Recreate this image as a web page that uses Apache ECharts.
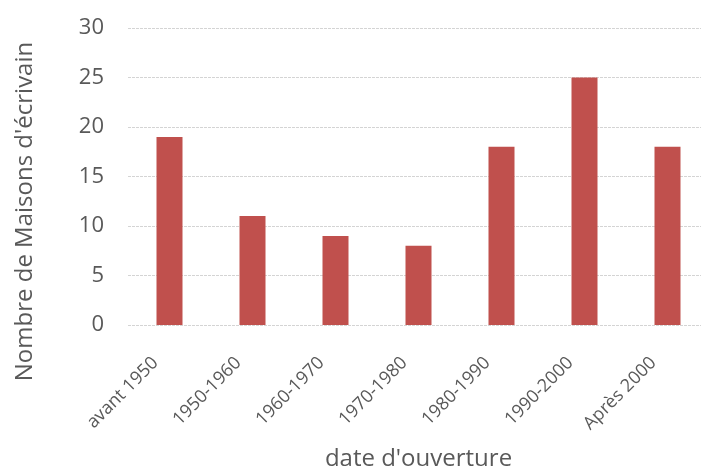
<!DOCTYPE html>
<html>
<head>
<meta charset="utf-8">
<script src="https://cdn.jsdelivr.net/npm/echarts@6/dist/echarts.min.js"></script>
<style>
  html, body { margin: 0; padding: 0; background: #fff; overflow: hidden; }
  #chart { width: 720px; height: 468px; }
</style>
</head>
<body>
<div id="chart"></div>
<script>
// données
const periodes = ['avant 1950', '1950-1960', '1960-1970', '1970-1980', '1980-1990', '1990-2000', 'Après 2000']
const nombreMaisons = [19, 11, 9, 8, 18, 25, 18]

const chart = echarts.init(document.getElementById('chart'))
const font = '"Open Sans", sans-serif'

chart.setOption({
  animation: false,
  grid: { left: 128, top: 28, width: 581, height: 297, outerBoundsMode: 'none' },
  xAxis: {
    type: 'category',
    data: periodes,
    name: "date d'ouverture",
    nameLocation: 'middle',
    nameGap: 122,
    nameTextStyle: { fontFamily: font, fontSize: 24, color: '#595959' },
    axisLine: { show: false },
    axisTick: { show: false },
    axisLabel: {
      rotate: 45, margin: 21, padding: [0, 20, 0, 0],
      fontFamily: font, fontSize: 18, color: '#595959', interval: 0
    }
  },
  yAxis: {
    type: 'value',
    min: 0,
    max: 30,
    interval: 5,
    name: "Nombre de Maisons d'écrivain",
    nameLocation: 'middle',
    nameGap: 91,
    nameTextStyle: { fontFamily: font, fontSize: 24, color: '#595959', padding: [0, 70, 0, 0] },
    axisLabel: { margin: 24, fontFamily: font, fontSize: 22, color: '#595959' },
    splitLine: { lineStyle: { color: '#d4d4d4', type: [3, 1], width: 1 } }
  },
  series: [{
    type: 'bar',
    data: nombreMaisons,
    barWidth: 26,
    itemStyle: { color: '#C0504D' }
  }]
})
</script>
</body>
</html>
